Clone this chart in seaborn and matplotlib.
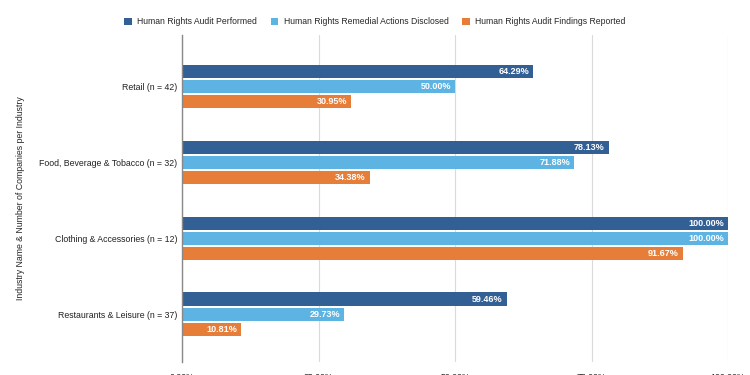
import pandas as pd
import matplotlib.pyplot as plt
import seaborn as sns

# --- Datos ---
industrias = ["Retail (n = 42)", "Food, Beverage & Tobacco (n = 32)",
              "Clothing & Accessories (n = 12)", "Restaurants & Leisure (n = 37)"]
series = ["Human Rights Audit Performed", "Human Rights Remedial Actions Disclosed",
          "Human Rights Audit Findings Reported"]
audit_performed = [64.29, 78.13, 100.00, 59.46]
remedial_disclosed = [50.00, 71.88, 100.00, 29.73]
findings_reported = [30.95, 34.38, 91.67, 10.81]
colores = ["#336094", "#5DB4E3", "#E67E3A"]

df = pd.DataFrame({
    "industria": industrias * 3,
    "serie": [series[0]] * 4 + [series[1]] * 4 + [series[2]] * 4,
    "valor": audit_performed + remedial_disclosed + findings_reported,
})

sns.set_style("white")
plt.rcParams["font.family"] = ["Liberation Sans", "DejaVu Sans"]

fig = plt.figure(figsize=(7.5, 3.75), dpi=100)
ax = fig.add_axes([0.2427, 0.0347, 0.728, 0.872])

sns.barplot(data=df, y="industria", x="valor", hue="serie", order=industrias,
            hue_order=series, palette=colores, orient="h", width=0.6,
            linewidth=0, saturation=1, legend=True, ax=ax)

# --- Separación entre barras ---
for cont in ax.containers:
    for p in cont.patches:
        h = p.get_height()
        p.set_y(p.get_y() + h * 0.07)
        p.set_height(h * 0.86)

# --- Etiquetas dentro de las barras ---
for cont in ax.containers:
    ax.bar_label(cont, labels=[f"{v:.2f}%" for v in cont.datavalues],
                 padding=-3, color="white", fontsize=6.5, fontweight="bold",
                 label_type="edge")
for t in ax.texts:
    t.set_ha("right")

ax.set_xlim(0, 100)
ax.set_ylim(3.63, -0.68)
ax.set_xticks([0, 25, 50, 75, 100])
ax.set_xticklabels(["0.00%", "25.00%", "50.00%", "75.00%", "100.00%"])
ax.tick_params(axis="both", labelsize=6.3, colors="#222222", length=0)
ax.tick_params(axis="y", pad=3.5)
ax.tick_params(axis="x", pad=8)
ax.xaxis.grid(True, color="#DADADA", linewidth=0.8)
ax.set_axisbelow(True)
for s in ["top", "right", "bottom"]:
    ax.spines[s].set_visible(False)
ax.spines["left"].set_color("#888888")
ax.spines["left"].set_linewidth(1)
ax.set_xlabel("")
ax.set_ylabel("Industry Name & Number of Companies per Industry", fontsize=6.3)
ax.yaxis.set_label_coords(-0.288, 0.5)

ax.legend(loc="center", bbox_to_anchor=(0.353, 1.04), ncol=3, frameon=False,
          fontsize=6.2, handlelength=0.9, handleheight=0.9, handletextpad=0.6,
          columnspacing=1.6, borderaxespad=0)

plt.savefig("out.png", dpi=100)
